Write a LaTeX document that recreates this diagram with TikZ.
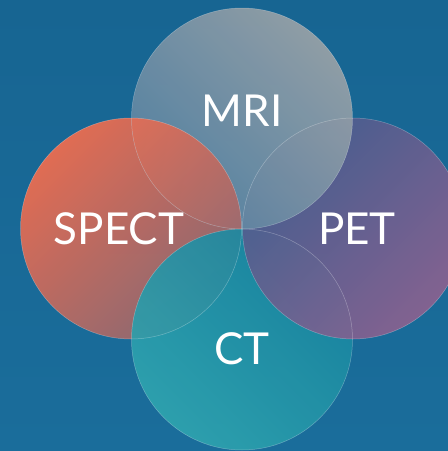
\documentclass[tikz,border=0pt]{standalone}
\usepackage{fontspec}
\setmainfont{Lato}
\begin{document}
\begin{tikzpicture}[x=1pt,y=-1pt,
  lbl/.style={text=white,font=\fontsize{44}{44}\selectfont,inner sep=0pt},
  rim/.style={draw=white,draw opacity=0.3,line width=0.5pt},
  cfill/.style={opacity=0.9}]
\useasboundingbox (0,0) rectangle (448,451);
\definecolor{bgA}{HTML}{1A6D9B}
\definecolor{bgB}{HTML}{176592}
\shade[top color=bgB,bottom color=bgA] (0,0) rectangle (448,451);
\definecolor{mriA}{HTML}{9CA3A8}
\definecolor{mriB}{HTML}{5A84A3}
\definecolor{spA}{HTML}{F66D4D}
\definecolor{spB}{HTML}{96686F}
\definecolor{petA}{HTML}{4A5D8F}
\definecolor{petB}{HTML}{8E6290}
\definecolor{ctA}{HTML}{1885A0}
\definecolor{ctB}{HTML}{2FA5AF}
\def\R{110.5}
\coordinate (cm) at (242,118.5);
\coordinate (cs) at (131,228.5);
\coordinate (cp) at (353,228.5);
\coordinate (cc) at (242,339.5);
% layers (cyclic: SPECT over MRI, CT over SPECT, PET over CT, MRI over PET)
\shade[cfill,top color=spA,bottom color=spB,shading angle=45] (cs) circle (\R);
\shade[cfill,top color=ctA,bottom color=ctB,shading angle=-45] (cc) circle (\R);
\shade[cfill,top color=petA,bottom color=petB,shading angle=45] (cp) circle (\R);
\shade[cfill,top color=mriA,bottom color=mriB,shading angle=-45] (cm) circle (\R);
\begin{scope}
  \clip (cm) circle (\R);
  \shade[cfill,top color=spA,bottom color=spB,shading angle=45] (cs) circle (\R);
\end{scope}
\draw[rim] (cs) circle (\R);
\draw[rim] (cc) circle (\R);
\draw[rim] (cp) circle (\R);
\draw[rim] (cm) circle (\R);
\node[lbl] (mri) at (242,111) {MRI};
\node[lbl] (spect) at (119,229) {SPECT};
\node[lbl] (pet) at (357,229) {PET};
\node[lbl] (ct) at (242,349) {CT};
\end{tikzpicture}
\end{document}
